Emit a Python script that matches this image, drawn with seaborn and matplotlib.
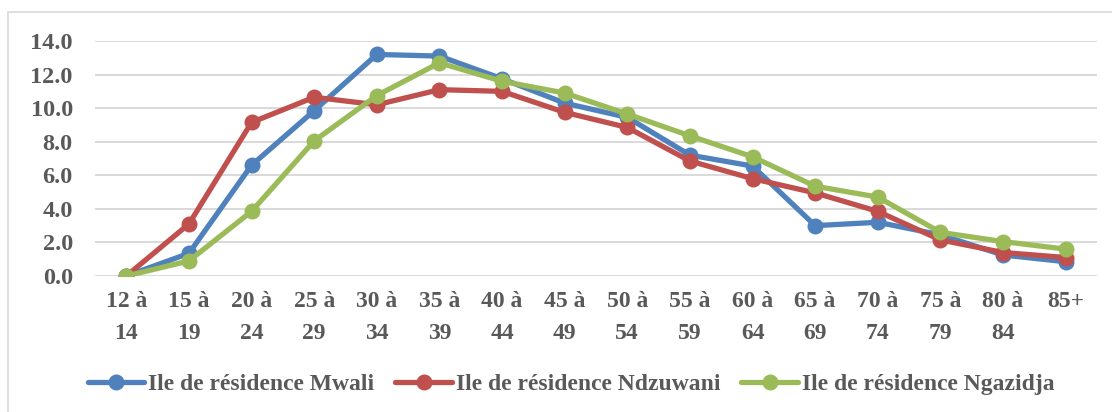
import matplotlib
matplotlib.use("Agg")
import matplotlib.pyplot as plt
import seaborn as sns
import pandas as pd
from matplotlib.patches import Rectangle

# Data
age_groups = ["12 à\n14", "15 à\n19", "20 à\n24", "25 à\n29", "30 à\n34", "35 à\n39",
              "40 à\n44", "45 à\n49", "50 à\n54", "55 à\n59", "60 à\n64", "65 à\n69",
              "70 à\n74", "75 à\n79", "80 à\n84", "85+"]
mwali = [0.0, 1.35, 6.6, 9.85, 13.2, 13.1, 11.75, 10.3, 9.45, 7.2, 6.55, 3.0, 3.2, 2.45, 1.25, 0.85]
ndzuwani = [0.0, 3.1, 9.15, 10.65, 10.2, 11.1, 11.0, 9.75, 8.85, 6.85, 5.8, 4.95, 3.85, 2.15, 1.4, 1.1]
ngazidja = [0.0, 0.9, 3.85, 8.05, 10.75, 12.7, 11.6, 10.9, 9.65, 8.35, 7.1, 5.35, 4.7, 2.6, 2.05, 1.6]

series_names = ["Ile de résidence Mwali", "Ile de résidence Ndzuwani", "Ile de résidence Ngazidja"]
colors = ["#4F81BD", "#C0504D", "#9BBB59"]

df = pd.concat([
    pd.DataFrame({"age": age_groups, "value": vals, "serie": name})
    for name, vals in zip(series_names, [mwali, ndzuwani, ngazidja])
])

sns.set_theme(style="white")
plt.rcParams["font.family"] = ["Liberation Serif", "DejaVu Serif"]
plt.rcParams["font.weight"] = "bold"

fig = plt.figure(figsize=(11.12, 4.12), dpi=100)
ax = fig.add_axes([95 / 1112, 1 - 276 / 412, (1097 - 95) / 1112, (276 - 41) / 412])

sns.lineplot(data=df, x="age", y="value", hue="serie", palette=colors, sort=False,
             marker="o", markersize=11.5, markeredgewidth=0, linewidth=3.8, ax=ax)

ax.set_ylim(0, 14)
ax.set_xlim(-0.5, len(age_groups) - 0.5)
ax.set_yticks(range(0, 15, 2))
ax.set_yticklabels([f"{v:.1f}" for v in range(0, 15, 2)])
ax.set_xticks(range(len(age_groups)))
ax.set_xticklabels(age_groups, linespacing=1.7)
ax.set_xlabel("")
ax.set_ylabel("")
ax.grid(axis="y", color="#D9D9D9", linewidth=1.4)
ax.set_axisbelow(True)
for s in ax.spines.values():
    s.set_visible(False)
ax.tick_params(axis="y", length=0, pad=16, labelsize=17.5, labelcolor="#595959")
ax.tick_params(axis="x", length=0, pad=11, labelsize=17, labelcolor="#595959")
for t in ax.get_xticklabels() + ax.get_yticklabels():
    t.set_fontweight("bold")

handles, labels = ax.get_legend_handles_labels()
ax.get_legend().remove()
leg = fig.legend(handles, labels, loc="center", bbox_to_anchor=(0.5135, 1 - 384 / 412),
                 ncol=3, frameon=False, handlelength=2.4, handletextpad=0.15,
                 columnspacing=0.9, prop={"size": 17, "weight": "bold"})
for t in leg.get_texts():
    t.set_color("#595959")

# chart area border
fig.patches.append(Rectangle((7.5 / 1112, -0.05), 1.1, 1 - 12 / 412 + 0.05,
                             transform=fig.transFigure, fill=False,
                             edgecolor="#D9D9D9", linewidth=1.2))

fig.savefig("out.png", dpi=100)
